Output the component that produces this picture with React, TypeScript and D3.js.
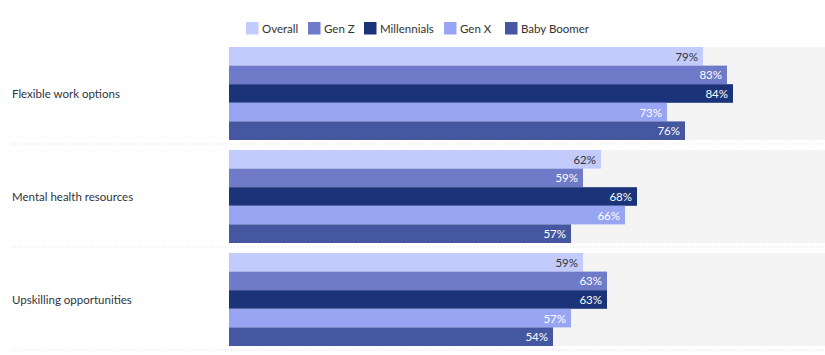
import React from "react";
import * as d3 from "d3";

const categories = ["Flexible work options", "Mental health resources", "Upskilling opportunities"];
const seriesNames = ["Overall", "Gen Z", "Millennials", "Gen X", "Baby Boomer"];
const overall = [79, 62, 59];
const genZ = [83, 59, 63];
const millennials = [84, 68, 63];
const genX = [73, 66, 57];
const babyBoomer = [76, 57, 54];
const colors = ["#c3cbfd", "#6f7bc8", "#1b3479", "#98a5f3", "#4657a1"];
const labelColors = ["#333333", "#ffffff", "#ffffff", "#ffffff", "#ffffff"];

const seriesValues = [overall, genZ, millennials, genX, babyBoomer];

const W = 825;
const H = 355;
const FONT = "Lato, 'Open Sans', sans-serif";

export default function App() {
  const x = d3.scaleLinear().domain([0, 100]).range([229, 829]);
  const y0 = d3.scaleBand<string>().domain(categories).range([41.5, 350.5]);
  const y1 = d3.scaleBand<string>().domain(seriesNames).range([5.5, 98.5]);
  const legendX = [246, 308, 364, 444, 505];

  return (
    <svg width={W} height={H} style={{ position: "absolute", left: 0, top: 0, fontFamily: FONT }}>
      <rect x={0} y={0} width={W} height={H} fill="#ffffff" />
      {seriesNames.map((s, i) => (
        <g key={s} transform={`translate(${legendX[i]},22)`}>
          <rect x={0} y={0} width={12.5} height={12.5} fill={colors[i]} />
          <text x={16} y={6.5} dominantBaseline="central" fontSize={11.5} fill="#333">
            {s}
          </text>
        </g>
      ))}
      {categories.map((c, ci) => {
        const gy = y0(c)!;
        return (
          <g key={c} transform={`translate(0,${gy})`}>
            <rect x={x(0)} y={y1.range()[0]} width={W - x(0)} height={y1.range()[1] - y1.range()[0]} fill="#f4f4f4" />
            <text x={12} y={(y1.range()[0] + y1.range()[1]) / 2} dominantBaseline="central" fontSize={11.5} fill="#2f3340">
              {c}
            </text>
            {seriesNames.map((s, si) => {
              const v = seriesValues[si][ci];
              const yy = y1(s)!;
              return (
                <g key={s}>
                  <rect x={x(0)} y={yy} width={x(v) - x(0)} height={y1.bandwidth()} fill={colors[si]} />
                  <text
                    x={x(v) - 5}
                    y={yy + y1.bandwidth() / 2}
                    dominantBaseline="central"
                    textAnchor="end"
                    fontSize={11.5}
                    fill={labelColors[si]}
                  >
                    {v}%
                  </text>
                </g>
              );
            })}
            <line
              x1={12}
              x2={W}
              y1={y0.bandwidth() - 0.5}
              y2={y0.bandwidth() - 0.5}
              stroke="#dddddd"
              strokeWidth={1}
              strokeDasharray="1,2"
            />
          </g>
        );
      })}
    </svg>
  );
}
